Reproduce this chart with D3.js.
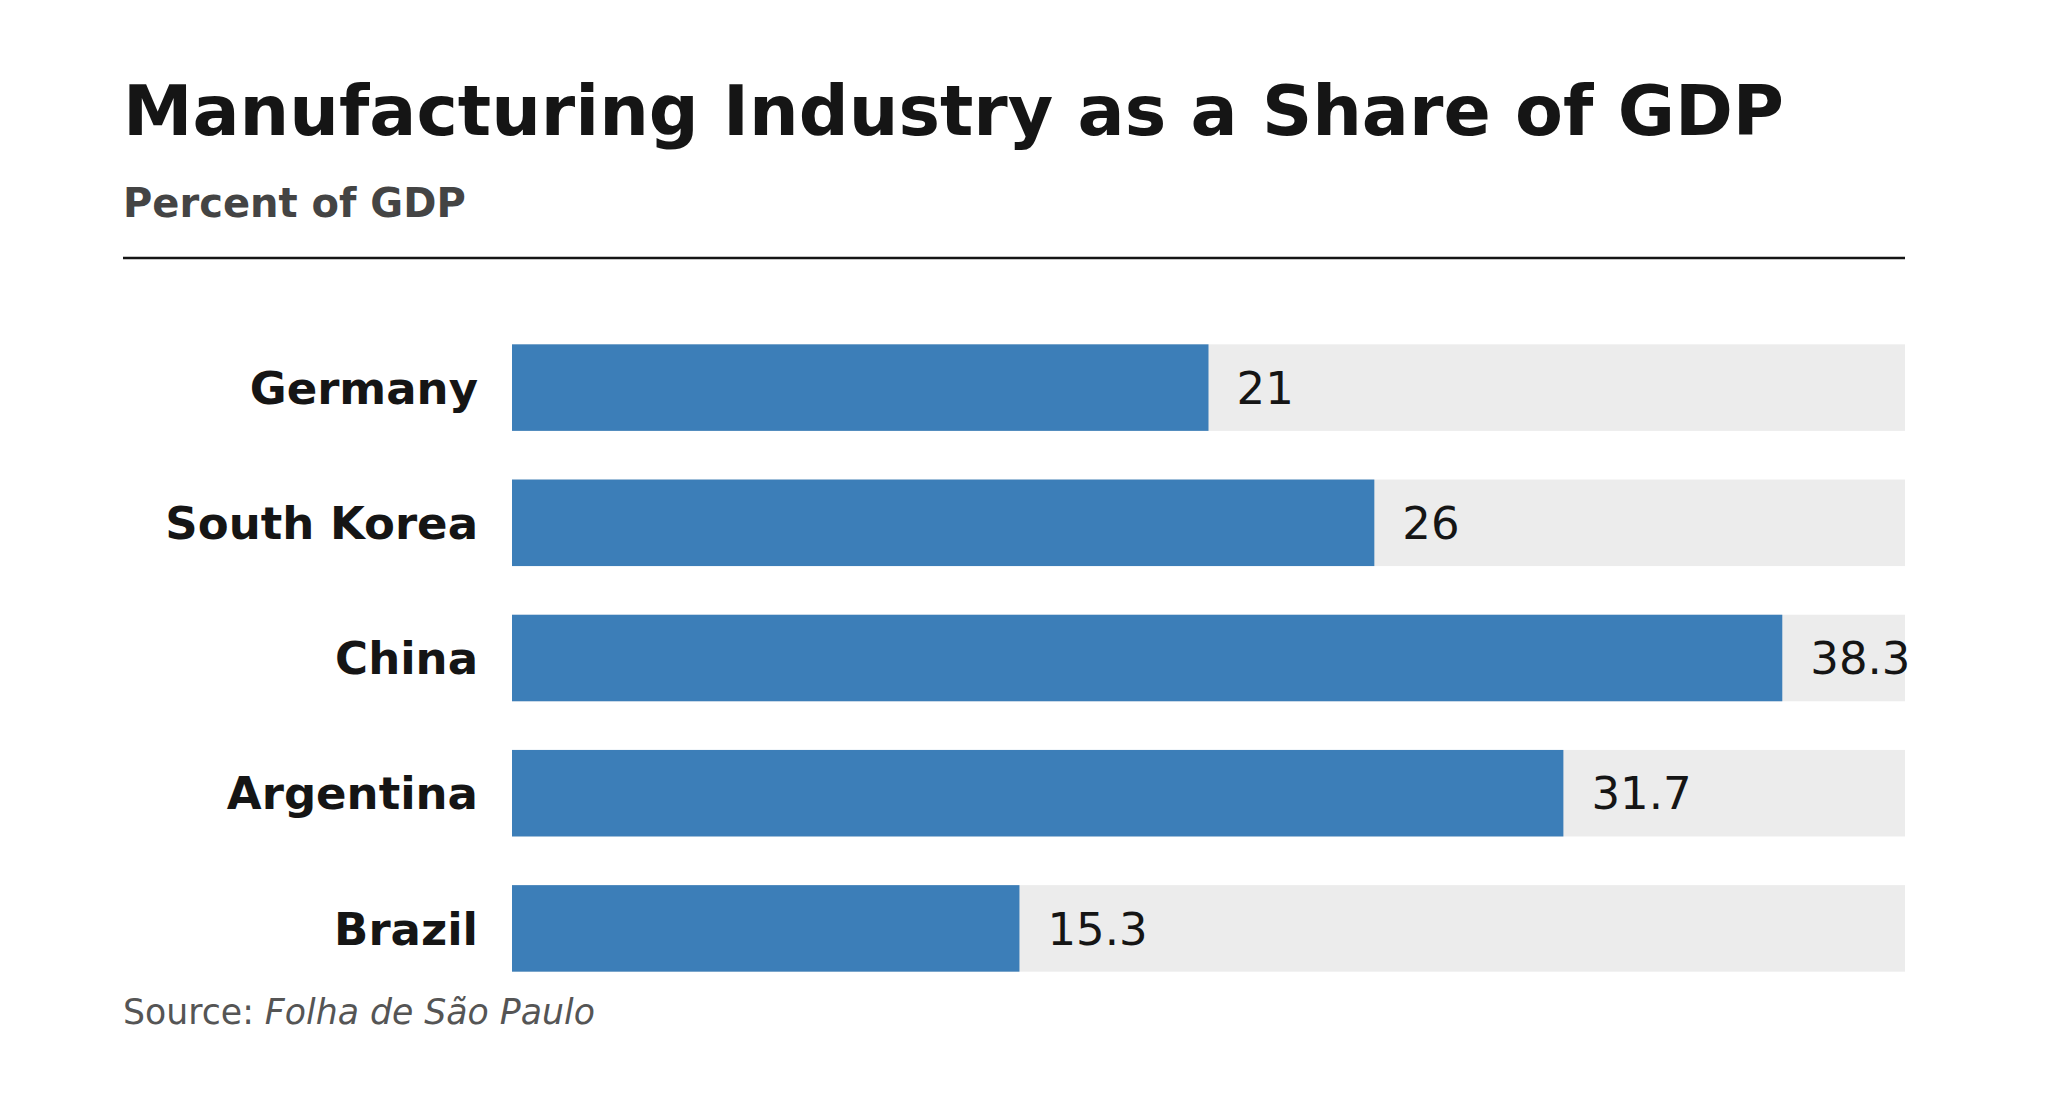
<!DOCTYPE html>
<html>
<head>
<meta charset="utf-8">
<script src="https://cdn.jsdelivr.net/npm/d3@7"></script>
<style>
  html, body { margin: 0; padding: 0; background: #fff; }
  svg { display: block; font-family: "DejaVu Sans", sans-serif; }
</style>
</head>
<body>
<div id="chart"></div>
<script>
// Chart data.
const countries = ["Germany", "South Korea", "China", "Argentina", "Brazil"];
const shares = [21, 26, 38.3, 31.7, 15.3];
const valueLabels = ["21", "26", "38.3", "31.7", "15.3"];
const domainMax = 42;

const width = 2048;
const height = 1106;
const left = 123;
const right = 1905;

const svg = d3.select("#chart")
    .append("svg")
    .attr("width", width)
    .attr("height", height);

// Title block.
svg.append("text")
    .attr("x", left)
    .attr("y", 135)
    .attr("font-size", 69.8)
    .attr("font-weight", "bold")
    .attr("fill", "#151515")
    .text("Manufacturing Industry as a Share of GDP");

svg.append("text")
    .attr("x", left)
    .attr("y", 217)
    .attr("font-size", 40)
    .attr("font-weight", "bold")
    .attr("fill", "#444")
    .text("Percent of GDP");

svg.append("line")
    .attr("x1", left)
    .attr("x2", right)
    .attr("y1", 258)
    .attr("y2", 258)
    .attr("stroke", "#151515")
    .attr("stroke-width", 2.5);

// Scales.
const x = d3.scaleLinear()
    .domain([0, domainMax])
    .range([512, right]);

const y = d3.scaleBand()
    .domain(countries)
    .range([320, 996])
    .paddingInner(0.36)
    .paddingOuter(0.18);

const rows = svg.selectAll("g.row")
    .data(countries)
    .enter()
    .append("g")
    .attr("class", "row");

// Background track.
rows.append("rect")
    .attr("x", x(0))
    .attr("y", d => y(d))
    .attr("width", x(domainMax) - x(0))
    .attr("height", y.bandwidth())
    .attr("fill", "#ececec");

// Value bar.
rows.append("rect")
    .attr("x", x(0))
    .attr("y", d => y(d))
    .attr("width", (d, i) => x(shares[i]) - x(0))
    .attr("height", y.bandwidth())
    .attr("fill", "#3c7eb8");

// Country labels.
rows.append("text")
    .attr("x", x(0) - 34)
    .attr("y", d => y(d) + y.bandwidth() / 2)
    .attr("dy", "0.36em")
    .attr("text-anchor", "end")
    .attr("font-size", 45)
    .attr("font-weight", "bold")
    .attr("fill", "#151515")
    .text(d => d);

// Value labels.
rows.append("text")
    .attr("x", (d, i) => x(shares[i]) + 28)
    .attr("y", d => y(d) + y.bandwidth() / 2)
    .attr("dy", "0.36em")
    .attr("font-size", 45)
    .attr("fill", "#151515")
    .text((d, i) => valueLabels[i]);

// Source note.
const source = svg.append("text")
    .attr("x", left)
    .attr("y", 1024)
    .attr("font-size", 34.7)
    .attr("fill", "#555");
source.append("tspan").text("Source: ");
source.append("tspan").attr("font-style", "italic").text("Folha de São Paulo");
</script>
</body>
</html>
